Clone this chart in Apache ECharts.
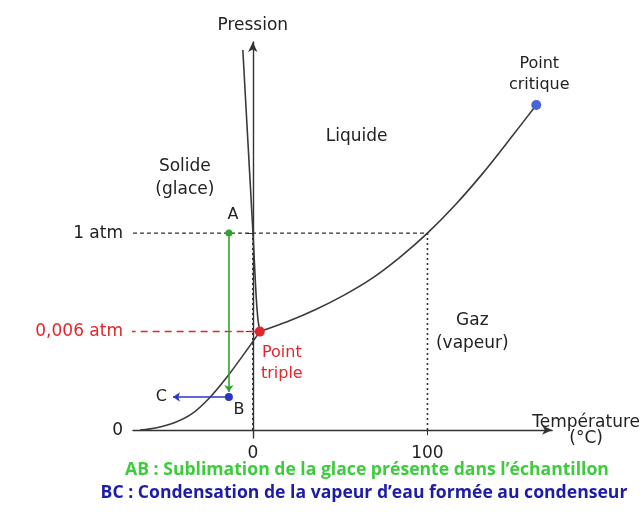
<!DOCTYPE html>
<html>
<head>
<meta charset="utf-8">
<script src="https://cdn.jsdelivr.net/npm/echarts@6/dist/echarts.min.js"></script>
<style>
  html, body { margin: 0; padding: 0; background: #fff; }
  #main { width: 643px; height: 516px; }
</style>
</head>
<body>
<div id="main"></div>
<script>
// diagramme de phase de l'eau (schématique) : x en °C, y en unités arbitraires
var xTicks = [0, 100]
var yTickValues = [0, 5, 10]
var yTickLabels = ['0', '0,006 atm', '1 atm']

var sublimation = [[-64.6, 0], [-55, 0.12], [-45, 0.37], [-35, 0.82], [-25, 1.62], [-15, 2.67], [-5, 3.87], [4, 5]]
var fusion = [[4, 5], [2.86, 5.69], [1.71, 7.11], [0, 10.15], [-2.86, 14.72], [-5.71, 19.29]]
var vaporisation = [[4, 5], [20, 5.51], [36, 6.12], [52, 6.84], [68, 7.69], [84, 8.76], [100, 10], [116, 11.44], [132, 13.07], [148, 14.86], [162.3, 16.5]]

var pointTriple = [4, 5]
var pointCritique = [162.3, 16.5]
var pointA = [-13.7, 10]
var pointB = [-13.7, 1.68]
var pointC = [-45.7, 1.68]

var xMin = -68.6
var xMax = 171.4

var zones = [
  { name: 'Solide\n(glace)', value: [-38.9, 12.8] },
  { name: 'Liquide', value: [59.4, 14.9] },
  { name: 'Gaz\n(vapeur)', value: [125.7, 5.0] }
]

var font = 'DejaVu Sans'
var fs = 17
var ink = '#222'
var green = '#2fa52f'
var blue = '#2a36c8'
var red = '#e3262b'

var myChart = echarts.init(document.getElementById('main'))

var curve = { color: '#3a3a3a', width: 1.6 }

var options = {
  animation: false,
  backgroundColor: '#fff',
  textStyle: { fontFamily: font },
  grid: { left: 133, right: 90, top: 42, bottom: 78 },
  xAxis: {
    type: 'value',
    min: xMin,
    max: xMax,
    name: 'Température\n(°C)',
    nameLocation: 'end',
    nameGap: 34,
    nameTextStyle: { fontSize: fs, color: ink, align: 'center', lineHeight: 16, fontFamily: font },
    axisLine: { onZero: true, symbol: ['none', 'arrow'], symbolSize: [7, 10], lineStyle: { color: '#333', width: 1.4 } },
    axisTick: { customValues: xTicks, length: 5, lineStyle: { color: '#333' } },
    axisLabel: { customValues: xTicks, fontSize: fs, color: ink, margin: 7 },
    splitLine: { show: false }
  },
  yAxis: {
    type: 'value',
    min: -0.4,
    max: 19.7,
    name: 'Pression',
    nameLocation: 'end',
    nameGap: 8,
    nameTextStyle: { fontSize: fs, color: ink, fontFamily: font },
    axisLine: { symbol: ['none', 'arrow'], symbolSize: [7, 10], lineStyle: { color: '#333', width: 1.4 } },
    axisTick: { customValues: yTickValues, length: 7, lineStyle: { color: '#333' } },
    axisLabel: {
      customValues: yTickValues,
      fontSize: fs,
      color: ink,
      margin: 10,
      formatter: function (v) {
        var i = yTickValues.indexOf(v)
        var t = i >= 0 ? yTickLabels[i] : ''
        return v === 5 ? '{r|' + t + '}' : t
      },
      rich: { r: { color: red, fontSize: fs, fontFamily: font } }
    },
    splitLine: { show: false }
  },
  series: [
    { name: 'sublimation', type: 'line', data: sublimation, smooth: 0.3, showSymbol: false, lineStyle: curve },
    { name: 'fusion', type: 'line', data: fusion, smooth: 0.25, showSymbol: false, lineStyle: curve },
    { name: 'vaporisation', type: 'line', data: vaporisation, smooth: 0.3, showSymbol: false, lineStyle: curve },
    // repères en pointillés
    { name: '1 atm', type: 'line', data: [[xMin, 10], [100, 10]], showSymbol: false, lineStyle: { color: '#333', width: 1.2, type: [4, 3] } },
    { name: '0 °C', type: 'line', data: [[0, 0], [0, 10]], showSymbol: false, lineStyle: { color: '#333', width: 1.6, type: [2, 3] } },
    { name: '100 °C', type: 'line', data: [[100, 0], [100, 10]], showSymbol: false, lineStyle: { color: '#333', width: 1.6, type: [2, 3] } },
    { name: 'triple', type: 'line', clip: false, data: [[xMin - 2.5, pointTriple[1]], pointTriple], showSymbol: false, lineStyle: { color: red, width: 1.5, type: [7, 5] } },
    // AB et BC
    {
      name: 'AB', type: 'scatter', data: [pointA], symbolSize: 7, itemStyle: { color: green, opacity: 1 }, z: 4,
      label: { show: true, formatter: 'A', position: 'top', offset: [4, 0], distance: 7, color: ink, fontSize: 16, fontFamily: font },
      markLine: {
        silent: true, symbol: ['none', 'arrow'], symbolSize: 7,
        label: { show: false },
        lineStyle: { color: green, width: 1.6, type: 'solid', opacity: 1 },
        data: [[{ coord: pointA }, { coord: [pointB[0], pointB[1] + 0.25] }]]
      }
    },
    {
      name: 'BC', type: 'scatter', data: [pointB], symbolSize: 8, itemStyle: { color: blue, opacity: 1 }, z: 4,
      label: { show: true, formatter: 'B', position: 'bottom', offset: [10, 0], distance: 1, color: ink, fontSize: 16, fontFamily: font },
      markLine: {
        silent: true, symbol: ['none', 'arrow'], symbolSize: 7,
        label: { show: true, position: 'end', formatter: 'C', color: ink, fontSize: 16, fontFamily: font, distance: 6 },
        lineStyle: { color: blue, width: 1.6, type: 'solid', opacity: 1 },
        data: [[{ coord: pointB }, { coord: pointC }]]
      }
    },
    {
      name: 'point triple', type: 'scatter', data: [pointTriple], symbolSize: 10, itemStyle: { color: red, opacity: 1 }, z: 5,
      label: { show: true, formatter: 'Point\ntriple', position: 'bottom', offset: [22, 0], distance: 6, color: red, fontSize: 16, lineHeight: 21, fontFamily: font }
    },
    {
      name: 'point critique', type: 'scatter', data: [pointCritique], symbolSize: 10, itemStyle: { color: '#4a63d9', opacity: 1 }, z: 5,
      label: { show: true, formatter: 'Point\ncritique', position: 'top', offset: [3, 0], distance: 5, color: ink, fontSize: 16, lineHeight: 21, fontFamily: font }
    },
    {
      name: 'zones', type: 'scatter', data: zones, symbolSize: 0, silent: true, itemStyle: { opacity: 1 },
      label: { show: true, formatter: '{b}', position: 'inside', color: ink, fontSize: fs, lineHeight: 23, fontFamily: font }
    }
  ],
  graphic: [
    { type: 'text', x: 367, y: 470, style: { text: 'AB : Sublimation de la glace présente dans l’échantillon', fill: '#3ccc3c', font: 'bold 17.6px "Open Sans"', textAlign: 'center', textVerticalAlign: 'middle' } },
    { type: 'text', x: 364, y: 493, style: { text: 'BC : Condensation de la vapeur d’eau formée au condenseur', fill: '#1c1ca8', font: 'bold 17.6px "Open Sans"', textAlign: 'center', textVerticalAlign: 'middle' } }
  ]
}

myChart.setOption(options)
</script>
</body>
</html>
